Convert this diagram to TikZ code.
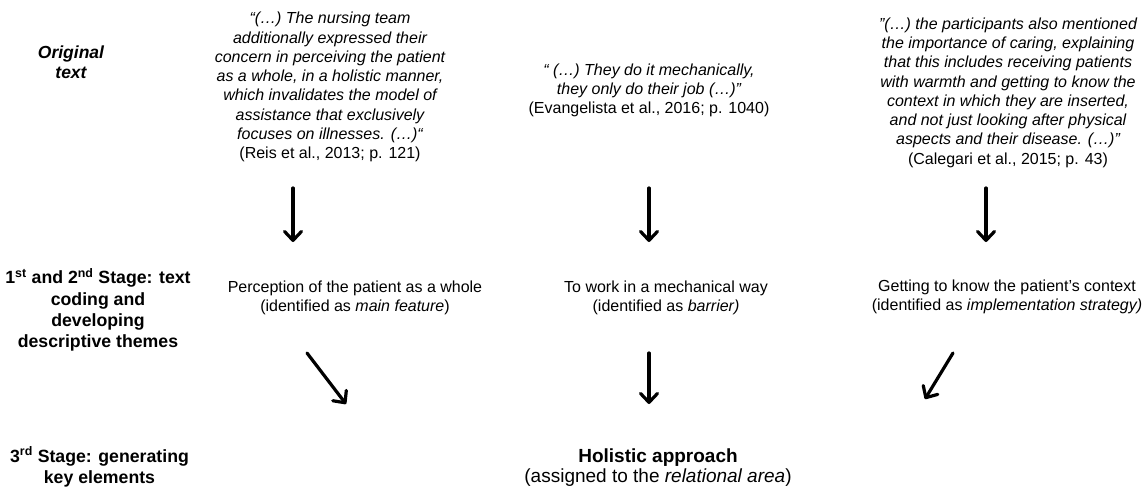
\documentclass[tikz,border=0pt]{standalone}
\usepackage{fontspec}
\setmainfont{Liberation Sans}
\usetikzlibrary{arrows.meta}
\begin{document}
\begin{tikzpicture}[x=1pt,y=-1pt,
  quote/.style={inner sep=0pt, align=center, font=\fontsize{16}{19.25}\selectfont\itshape},
  theme/.style={inner sep=0pt, align=center, font=\fontsize{16}{19}\selectfont},
  stagelabel/.style={inner sep=0pt, align=center, font=\fontsize{17.7}{21.3}\selectfont\bfseries},
  flow/.style={line width=3.2pt, line cap=round, -{Straight Barb[length=9pt,width=17pt,line width=3.2pt,round]}}]
\useasboundingbox (0,0) rectangle (1143,491);

% row labels
\node[stagelabel, font=\fontsize{17.5}{20}\selectfont\bfseries\itshape] (lab1) at (71,62) {Original\\text};
\node[stagelabel] (lab2) at (98,310) {1\textsuperscript{st} and 2\textsuperscript{nd} Stage: text\\coding and\\developing\\descriptive themes};
\node[stagelabel] (lab3) at (99.5,467) {3\textsuperscript{rd} Stage: generating\\key elements};

% quotes
\node[quote] (q1) at (330,87) {“(…) The nursing team\\additionally expressed their\\concern in perceiving the patient\\as a whole, in a holistic manner,\\which invalidates the model of\\assistance that exclusively\\focuses on illnesses. (…)“\\\upshape(Reis et al., 2013; p. 121)};
\node[quote] (q2) at (649,90.5) {“ (…) They do it mechanically,\\they only do their job (…)”\\\upshape(Evangelista et al., 2016; p. 1040)};
\node[quote] (q3) at (1008,92.5) {”(…) the participants also mentioned\\the importance of caring, explaining\\that this includes receiving patients\\with warmth and getting to know the\\context in which they are inserted,\\and not just looking after physical\\aspects and their disease. (…)”\\\upshape(Calegari et al., 2015; p. 43)};

% descriptive themes
\node[theme] (t1) at (355,298) {Perception of the patient as a whole\\(identified as \textit{main feature})};
\node[theme] (t2) at (666,298) {To work in a mechanical way\\(identified as \textit{barrier)}};
\node[theme] (t3) at (1007,296.5) {Getting to know the patient’s context\\(identified as \textit{implementation strategy)}};

% key element
\node[inner sep=0pt, align=center, font=\fontsize{19}{20}\selectfont] (k) at (658,467.5) {\textbf{Holistic approach}\\(assigned to the \textit{relational area})};

% arrow end points
\coordinate (a1s) at (293,188); \coordinate (a1e) at (293,242);
\coordinate (a2s) at (649,188); \coordinate (a2e) at (649,242);
\coordinate (a3s) at (986,188); \coordinate (a3e) at (986,242);
\coordinate (b1s) at (307,353); \coordinate (b1e) at (346,404);
\coordinate (b2s) at (649,353); \coordinate (b2e) at (649,404);
\coordinate (b3s) at (953,353); \coordinate (b3e) at (925,399);

\draw[flow] (a1s) -- (a1e);
\draw[flow] (a2s) -- (a2e);
\draw[flow] (a3s) -- (a3e);
\draw[flow] (b1s) -- (b1e);
\draw[flow] (b2s) -- (b2e);
\draw[flow] (b3s) -- (b3e);
\end{tikzpicture}
\end{document}
